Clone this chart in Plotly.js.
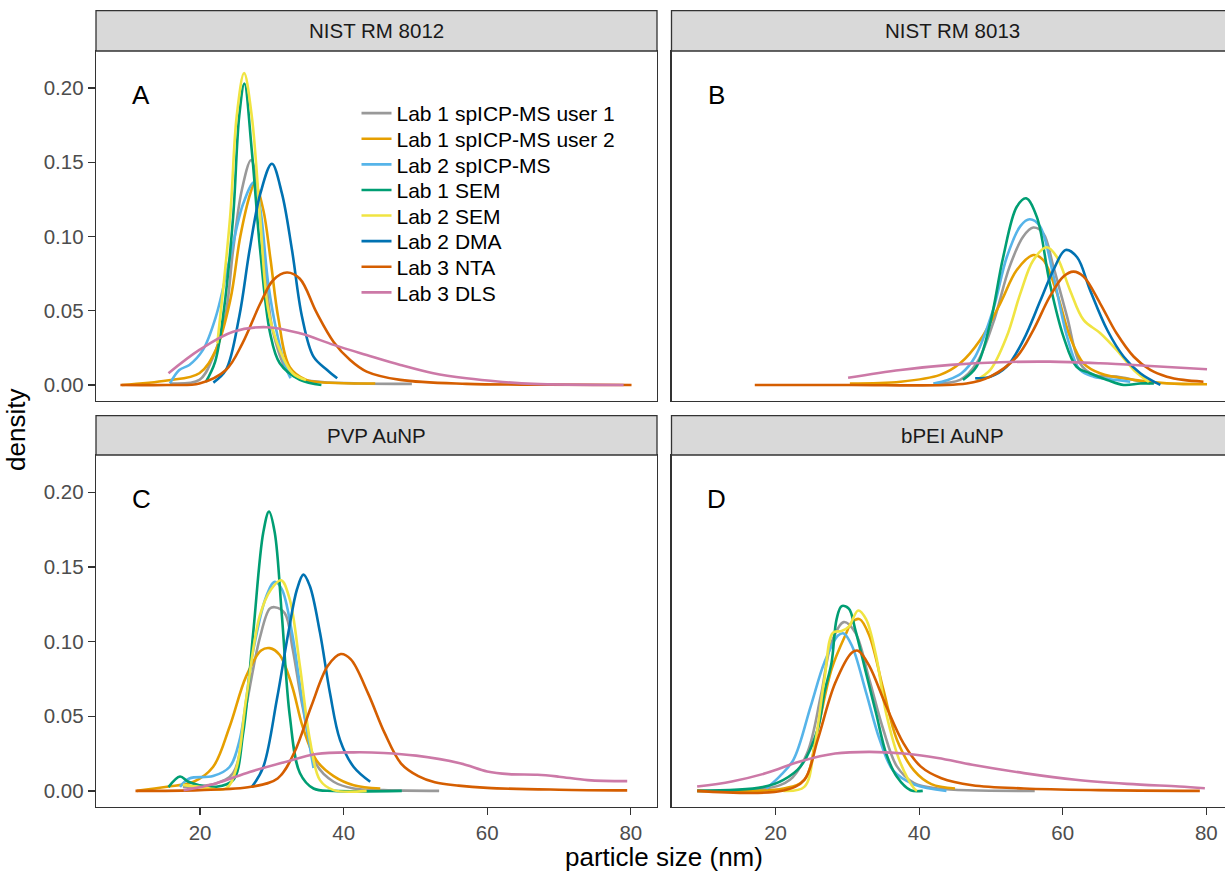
<!DOCTYPE html>
<html><head><meta charset="utf-8">
<script src="https://cdn.plot.ly/plotly-3.0.1.min.js"></script>
<style>html,body{margin:0;padding:0;overflow:hidden;background:#fff}#chart{width:1234px;height:871px}</style>
</head><body><div id="chart"></div>
<script>
// ---- series meta ----
const seriesNames = ["Lab 1 spICP-MS user 1","Lab 1 spICP-MS user 2","Lab 2 spICP-MS","Lab 1 SEM","Lab 2 SEM","Lab 2 DMA","Lab 3 NTA","Lab 3 DLS"];
const seriesColors = ["#999999","#E69F00","#56B4E9","#009E73","#F0E442","#0072B2","#D55E00","#CC79A7"];
const panelTitles = ["NIST RM 8012","NIST RM 8013","PVP AuNP","bPEI AuNP"];
const panelLetters = ["A","B","C","D"];
const xTicks = [20,40,60,80];
const yTicks = [0,0.05,0.10,0.15,0.20];

// ---- Panel A : NIST RM 8012 ----
const A1x=[15.8,19.9,21.7,23.5,24.6,25.8,27.1,27.9,29.0,30.2,32.1,34,37,42,49.5];
const A1y=[0.001,0.0034,0.0175,0.046,0.091,0.131,0.1515,0.136,0.080,0.035,0.010,0.004,0.002,0.001,0.0007];
const A2x=[9.1,15.4,19.9,22.2,24.2,25.6,27.0,27.6,28.8,29.8,30.9,32.5,34.8,38,44.4];
const A2y=[0.0,0.003,0.0079,0.0236,0.057,0.100,0.129,0.136,0.118,0.085,0.045,0.012,0.0034,0.0015,0.001];
const A3x=[15.8,17.1,18.5,20.4,22.2,24.2,26.0,27.5,28.4,29.5,30.7,31.9,32.6];
const A3y=[0.001,0.0101,0.0135,0.0236,0.046,0.0865,0.122,0.1364,0.118,0.068,0.035,0.0124,0.0045];
const A4x=[20.8,22.1,23.3,24.6,25.45,26.17,27.2,28.36,29.75,31.1,33.9,36.9];
const A4y=[0.002,0.0157,0.05,0.113,0.181,0.203,0.158,0.0913,0.035,0.0146,0.0034,0.0];
const A5x=[22.4,24.18,25.1,26.13,27.2,28.36,29.5,31.1,32.9,34.75];
const A5y=[0.028,0.113,0.181,0.210,0.181,0.113,0.0505,0.0236,0.0079,0.0034];
const A6x=[21.85,23.6,25.45,26.9,28.4,30.0,31.4,32.8,34.2,35.8,37.7,39.1];
const A6y=[0.0016,0.0101,0.046,0.091,0.129,0.149,0.129,0.091,0.046,0.0191,0.0101,0.0045];
const A7x=[8.9,15.4,19.9,23.6,25.9,28.4,30.2,32.1,33.9,36.2,38.6,40.9,43.2,47.9,57.1,68,80.1];
const A7y=[0,0,0.001,0.0101,0.028,0.055,0.0707,0.0757,0.0715,0.049,0.029,0.0168,0.009,0.0034,0.0007,0.0002,0];
const A8x=[15.6,19.9,24.6,29.3,33.9,38.6,43.2,47.9,52.5,57.1,61.8,66.4,79];
const A8y=[0.0079,0.0236,0.0359,0.0389,0.0348,0.027,0.0202,0.0135,0.0079,0.0045,0.0022,0.0007,0.0];

// ---- Panel B : NIST RM 8013 ----
const B1x=[42,45.7,48.0,50.3,52.6,54.5,55.9,57.3,58.7,60.6,62.4,64.3,67.5,69.9,72.2];
const B1y=[0.001,0.0034,0.0146,0.0416,0.0797,0.100,0.106,0.102,0.0797,0.046,0.0146,0.0068,0.0056,0.0034,0.001];
const B2x=[30.35,37.4,42.9,45.7,48.5,51.3,53.6,55.9,57.3,59.2,61.0,62.9,65.2,69.9,74.5,80.1];
const B2y=[0.001,0.0022,0.0068,0.0146,0.0303,0.055,0.0774,0.0875,0.084,0.0617,0.0326,0.0146,0.0079,0.0034,0.0011,0.0005];
const B3x=[42,44.0,45.9,47.8,50.3,52.2,54.1,55.4,56.8,58.7,60.6,62.4,64.3,67.5,69.4];
const B3y=[0.001,0.0034,0.0079,0.019,0.0505,0.086,0.107,0.1116,0.107,0.0737,0.0326,0.0101,0.0056,0.0034,0.0022];
const B4x=[46.1,48.0,49.9,51.7,53.6,54.9,56.4,58.2,60.1,61.9,63.8,66.2,68.5,70.8,72.7];
const B4y=[0.0034,0.0124,0.0416,0.086,0.120,0.1257,0.113,0.0685,0.0326,0.0124,0.0079,0.0034,0.0,0.001,0.001];
const B5x=[48.0,49.9,52.2,54.1,55.9,57.8,59.2,61.0,62.9,65.2,67.5,69.9,72.0];
const B5y=[0.0034,0.0101,0.0326,0.0617,0.084,0.0927,0.086,0.064,0.0438,0.035,0.0236,0.0101,0.002];
const B6x=[47.8,49.9,52.2,54.5,56.9,58.7,60.4,62.0,63.8,66.2,68.5,70.8,73.6];
const B6y=[0.0045,0.0056,0.0124,0.030,0.057,0.0774,0.0909,0.086,0.064,0.037,0.019,0.0079,0.0];
const B7x=[17.1,30,46.6,49.9,53.6,55.9,58.2,60.1,61.5,62.9,65.2,67.5,69.9,72.2,74.5,76.8,79.6];
const B7y=[0,0,0.001,0.0056,0.019,0.037,0.0595,0.073,0.0763,0.073,0.055,0.0348,0.019,0.0101,0.0056,0.0034,0.0022];
const B8x=[30.1,37.4,44.4,51.3,58.2,65.2,72.2,80.1];
const B8y=[0.0049,0.0101,0.0135,0.0153,0.0157,0.0146,0.0128,0.0106];

// ---- Panel C : PVP AuNP ----
const C1x=[17.6,22.2,24.6,26.4,28.3,29.7,30.4,31.8,32.9,34.3,36.2,38.6,41.4,45.6,53.3];
const C1y=[0.0027,0.005,0.012,0.056,0.102,0.122,0.123,0.119,0.095,0.056,0.0177,0.0061,0.0016,0.0005,0];
const C2x=[11.2,15.4,19.1,21.8,24.1,26.4,28.5,29.7,31.1,32.8,34.3,36.2,38.6,41.4,45.1];
const C2y=[0,0.0027,0.0061,0.016,0.0428,0.0765,0.094,0.0956,0.091,0.0704,0.0428,0.0205,0.0099,0.0038,0.0016];
const C3x=[17.2,18.5,21.8,24.1,25.5,27.4,29.2,30.4,31.4,32.8,34.2,35.8];
const C3y=[0.0027,0.0083,0.0099,0.016,0.034,0.094,0.130,0.140,0.135,0.106,0.0613,0.0153];
const C4x=[15.6,17.2,18.3,19.9,22.2,24.6,26.0,27.4,28.8,29.6,30.4,31.4,32.5,33.9,35.8,38.6,48.1];
const C4y=[0.0025,0.0096,0.0063,0.0038,0.0027,0.0072,0.0387,0.106,0.173,0.187,0.173,0.117,0.050,0.012,0.0016,0,0];
const C5x=[17.6,19.9,23.6,25.0,26.4,28.3,29.9,31.3,32.5,33.9,35.3,36.7,38.6,43.2];
const C5y=[0.004,0.0027,0.0016,0.0142,0.061,0.117,0.135,0.141,0.128,0.0838,0.034,0.0072,0.0005,0];
const C6x=[27.2,28.8,30.7,32.3,33.5,34.4,35.3,36.7,38.1,39.5,41.4,43.7];
const C6y=[0.0025,0.016,0.0613,0.106,0.135,0.1448,0.137,0.106,0.0653,0.034,0.016,0.0061];
const C7x=[11.0,19.9,27.1,30.8,33.1,35.5,37.8,39.6,41.0,43.4,45.7,48.0,50.4,52.7,56,60,70,79.5];
const C7y=[0,0.0005,0.0027,0.0083,0.0254,0.0568,0.0837,0.0916,0.088,0.0653,0.0388,0.0183,0.0099,0.0058,0.0035,0.002,0.0008,0.0003];
const C8x=[17.7,22.2,26.9,31.6,36.2,41.4,45.6,50.1,56.2,60,63,67,70,74,79.5];
const C8y=[0.0005,0.005,0.0126,0.019,0.0247,0.0258,0.0254,0.0236,0.0185,0.013,0.0112,0.0108,0.0095,0.0072,0.0065];

// ---- Panel D : bPEI AuNP (no DMA) ----
const D1x=[9.07,18.7,22.0,24.4,26.3,27.8,29.5,31.1,33.05,35.0,36.9,39.3,42.6,56.1];
const D1y=[0,0.0016,0.0074,0.0254,0.0636,0.0994,0.113,0.106,0.0747,0.0411,0.0164,0.0052,0.0016,0];
const D2x=[9.07,21.1,24.0,25.85,27.8,29.7,30.65,31.7,33.05,35.0,36.9,39.3,41.7,45.0];
const D2y=[0,0.0016,0.0074,0.041,0.0815,0.104,0.113,0.115,0.104,0.0681,0.0343,0.0135,0.0045,0.0016];
const D3x=[18.7,20.6,22.5,24.9,26.8,28.7,29.5,30.65,32.6,34.5,36.4,39.3,43.8];
const D3y=[0.0016,0.0099,0.021,0.0568,0.086,0.104,0.1054,0.097,0.066,0.0343,0.0135,0.0043,0];
const D4x=[9.07,18.2,21.1,23.5,25.85,26.8,27.8,28.5,29.2,30.2,31.1,32.6,34.0,35.4,36.9,38.8,40.5];
const D4y=[0,0.0025,0.0074,0.0165,0.041,0.066,0.086,0.115,0.1237,0.122,0.108,0.079,0.052,0.025,0.0094,0.0004,0];
const D5x=[21.1,24.0,25.4,26.8,28.0,29.2,30.2,31.5,32.6,34.0,35.4,37.4,39.3,39.7];
const D5y=[0,0.0027,0.029,0.0747,0.106,0.107,0.11,0.1208,0.115,0.0904,0.052,0.0186,0.0016,0];
const D7x=[9.07,21.1,24.0,25.85,28.3,30.65,31.5,33.05,35.4,37.8,40.2,43.1,47.4,54.6,65,79.1];
const D7y=[0,0.0002,0.0074,0.034,0.0722,0.0927,0.0938,0.0837,0.0568,0.032,0.0164,0.0085,0.0038,0.0016,0.0005,0];
const D8x=[9.07,13.9,18.7,23.5,28.3,33.05,37.8,42.6,47.4,54.6,61.8,69.0,76.2,79.8];
const D8y=[0.0029,0.0063,0.0119,0.0198,0.025,0.0261,0.025,0.022,0.0175,0.0119,0.0074,0.0047,0.0029,0.0018];

const panels = [
  [[A1x,A1y],[A2x,A2y],[A3x,A3y],[A4x,A4y],[A5x,A5y],[A6x,A6y],[A7x,A7y],[A8x,A8y]],
  [[B1x,B1y],[B2x,B2y],[B3x,B3y],[B4x,B4y],[B5x,B5y],[B6x,B6y],[B7x,B7y],[B8x,B8y]],
  [[C1x,C1y],[C2x,C2y],[C3x,C3y],[C4x,C4y],[C5x,C5y],[C6x,C6y],[C7x,C7y],[C8x,C8y]],
  [[D1x,D1y],[D2x,D2y],[D3x,D3y],[D4x,D4y],[D5x,D5y],null,[D7x,D7y],[D8x,D8y]]
];

// ---- geometry (pixels) ----
const W = 1234, H = 871;
const colPx = [[96,657],[671.5,1232.5]];
const rowPx = [[51,401],[455,807]];
const stripPx = [[10.7,51],[415.7,455]];
const xRange = [5.5,83.65];
const yRange = [-0.0108,0.2249];
const legendRow0 = 113.5, legendStep = 25.6, legendLeft = 356.5;
const FONT = "Liberation Sans, Arial, sans-serif";

const px2x = p => p / W;
const px2y = p => 1 - p / H;
const legId = i => i === 0 ? "legend" : "legend" + (i + 1);

const traces = [];
panels.forEach((pan, pi) => {
  const sfx = pi === 0 ? "" : String(pi + 1);
  pan.forEach((s, si) => {
    if (!s) return;
    traces.push({
      type: "scatter", mode: "lines",
      x: s[0], y: s[1],
      xaxis: "x" + sfx, yaxis: "y" + sfx,
      name: seriesNames[si], legendgroup: seriesNames[si],
      legend: legId(si),
      showlegend: pi === 0,
      line: {color: seriesColors[si], width: 2.6, shape: "spline", smoothing: 1},
      hoverinfo: "skip"
    });
  });
});

const layout = {
  width: W, height: H,
  margin: {l:0, r:0, t:0, b:0},
  paper_bgcolor: "#ffffff", plot_bgcolor: "#ffffff",
  font: {family: FONT, size: 20, color: "#000000"},
  showlegend: true,
  shapes: [], annotations: []
};
seriesNames.forEach((n, i) => {
  layout[legId(i)] = {x: px2x(legendLeft), y: px2y(legendRow0 + i * legendStep),
    xanchor: "left", yanchor: "middle", bgcolor: "rgba(0,0,0,0)",
    font: {family: FONT, size: 21, color: "#000000"}, itemclick: false};
});

for (let pi = 0; pi < 4; pi++) {
  const r = Math.floor(pi / 2), c = pi % 2;
  const sfx = pi === 0 ? "" : String(pi + 1);
  const bottom = r === 1, left = c === 0;
  layout["xaxis" + sfx] = {
    domain: [px2x(colPx[c][0]), px2x(colPx[c][1])],
    range: xRange, anchor: "y" + sfx,
    showgrid: false, zeroline: false,
    showline: true, mirror: true, linecolor: "#333333", linewidth: 1.3,
    ticks: bottom ? "outside" : "", ticklen: 7, tickwidth: 1.3, tickcolor: "#333333",
    tickvals: xTicks, showticklabels: bottom,
    tickfont: {family: FONT, size: 20.5, color: "#4D4D4D"}
  };
  layout["yaxis" + sfx] = {
    domain: [px2y(rowPx[r][1]), px2y(rowPx[r][0])],
    range: yRange, anchor: "x" + sfx,
    showgrid: false, zeroline: false,
    showline: true, mirror: true, linecolor: "#333333", linewidth: 1.3,
    ticks: left ? "outside" : "", ticklen: 7, tickwidth: 1.3, tickcolor: "#333333",
    tickvals: yTicks, tickformat: ".2f", showticklabels: left,
    tickfont: {family: FONT, size: 20.5, color: "#4D4D4D"}
  };
  // strip
  layout.shapes.push({type: "rect", xref: "paper", yref: "paper",
    x0: px2x(colPx[c][0]), x1: px2x(colPx[c][1]),
    y0: px2y(stripPx[r][1]), y1: px2y(stripPx[r][0]),
    fillcolor: "#D9D9D9", line: {color: "#333333", width: 1.3}});
  layout.annotations.push({xref: "paper", yref: "paper",
    x: px2x((colPx[c][0] + colPx[c][1]) / 2), y: px2y((stripPx[r][0] + stripPx[r][1]) / 2),
    text: panelTitles[pi], showarrow: false, xanchor: "center", yanchor: "middle",
    font: {family: FONT, size: 20.5, color: "#1A1A1A"}});
  // panel letter
  layout.annotations.push({xref: "paper", yref: "paper",
    x: px2x(colPx[c][0] + 45), y: px2y(rowPx[r][0] + 44),
    text: panelLetters[pi], showarrow: false, xanchor: "center", yanchor: "middle",
    font: {family: FONT, size: 26, color: "#000000"}});
}

layout.annotations.push({xref: "paper", yref: "paper", x: px2x(664), y: px2y(857),
  text: "particle size (nm)", showarrow: false, xanchor: "center", yanchor: "middle",
  font: {family: FONT, size: 26, color: "#000000"}});
layout.annotations.push({xref: "paper", yref: "paper", x: px2x(16), y: px2y(430),
  text: "density", showarrow: false, textangle: -90, xanchor: "center", yanchor: "middle",
  font: {family: FONT, size: 26, color: "#000000"}});

Plotly.newPlot("chart", traces, layout, {staticPlot: true, displayModeBar: false});
</script></body></html>
